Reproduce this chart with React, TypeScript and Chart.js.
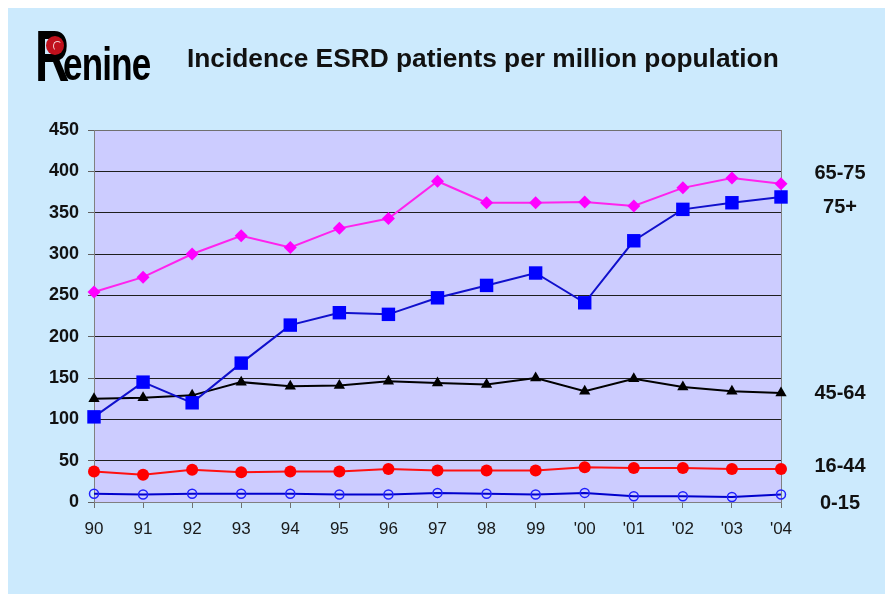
import React, { useEffect, useRef } from "react";
import { Chart, registerables } from "chart.js";

Chart.register(...registerables);

const years = ["90", "91", "92", "93", "94", "95", "96", "97", "98", "99", "'00", "'01", "'02", "'03", "'04"];
const age65to75 = [254, 272, 300, 322, 308, 331, 343, 388, 362, 362, 363, 358, 380, 392, 385];
const age75plus = [103, 145, 120, 168, 214, 229, 227, 247, 262, 277, 241, 316, 354, 362, 369];
const age45to64 = [125, 126, 129, 145, 140, 141, 146, 144, 142, 150, 134, 149, 139, 134, 132];
const age16to44 = [37, 33, 39, 36, 37, 37, 40, 38, 38, 38, 42, 41, 41, 40, 40];
const age0to15 = [10, 9, 10, 10, 10, 9, 9, 11, 10, 9, 11, 7, 7, 6, 9];
const seriesNames = ["65-75", "75+", "45-64", "16-44", "0-15"];
const titleText = "Incidence ESRD patients per million population";
const yMin = 0;
const yMax = 450;
const yStep = 50;

const FONT = '"Liberation Sans", Arial, Helvetica, sans-serif';

const plotDecor = {
  id: "plotDecor",
  beforeDraw(chart: any) {
    const { ctx, chartArea: a } = chart;
    ctx.save();
    ctx.fillStyle = "#ccccff";
    ctx.fillRect(a.left, a.top, a.right - a.left, a.bottom - a.top);
    ctx.restore();
  },
  beforeDatasetsDraw(chart: any) {
    const { ctx, chartArea: a } = chart;
    ctx.save();
    ctx.strokeStyle = "#808080";
    ctx.lineWidth = 1;
    ctx.beginPath();
    ctx.moveTo(Math.round(a.right) + 0.5, a.top);
    ctx.lineTo(Math.round(a.right) + 0.5, a.bottom);
    ctx.stroke();
    ctx.restore();
  },
};

export default function App() {
  const canvasRef = useRef<HTMLCanvasElement | null>(null);

  useEffect(() => {
    const prevBodyMargin = document.body.style.margin;
    const prevOverflow = document.documentElement.style.overflow;
    document.body.style.margin = "8px 0 0 8px";
    document.documentElement.style.overflow = "hidden";

    const canvas = canvasRef.current;
    if (!canvas) return;
    const chart = new Chart(canvas, {
      type: "line",
      data: {
        labels: years,
        datasets: [
          {
            label: seriesNames[0],
            data: age65to75,
            borderColor: "#ff22ee",
            backgroundColor: "#ff00ff",
            borderWidth: 2,
            pointStyle: "rectRot",
            pointRadius: 6.5,
            pointBorderWidth: 0,
            pointBackgroundColor: "#ff00ff",
            clip: false,
          },
          {
            label: seriesNames[1],
            data: age75plus,
            borderColor: "#1010cc",
            backgroundColor: "#0000ff",
            borderWidth: 2,
            pointStyle: "rect",
            pointRadius: 9.5,
            pointBorderWidth: 0,
            pointBackgroundColor: "#0000ff",
            clip: false,
          },
          {
            label: seriesNames[2],
            data: age45to64,
            borderColor: "#000000",
            backgroundColor: "#000000",
            borderWidth: 2,
            pointStyle: "triangle",
            pointRadius: 6.5,
            pointBorderWidth: 0,
            pointBackgroundColor: "#000000",
            clip: false,
          },
          {
            label: seriesNames[3],
            data: age16to44,
            borderColor: "#ff1010",
            backgroundColor: "#ff0000",
            borderWidth: 2,
            pointStyle: "circle",
            pointRadius: 6,
            pointBorderWidth: 0,
            pointBackgroundColor: "#ff0000",
            clip: false,
          },
          {
            label: seriesNames[4],
            data: age0to15,
            borderColor: "#0000cc",
            backgroundColor: "transparent",
            borderWidth: 2,
            pointStyle: "circle",
            pointRadius: 4.5,
            pointBorderWidth: 1.5,
            pointBorderColor: "#2020ff",
            pointBackgroundColor: "rgba(0,0,0,0)",
            clip: false,
          },
        ],
      },
      options: {
        responsive: false,
        animation: false,
        events: [],
        layout: { padding: { left: 36, right: 104, top: 122, bottom: 52 } },
        plugins: {
          legend: { display: false },
          tooltip: { enabled: false },
          title: { display: false },
        },
        scales: {
          x: {
            type: "category",
            offset: false,
            afterFit(scale: any) {
              scale.height = 40;
            },
            grid: {
              drawOnChartArea: false,
              drawTicks: true,
              tickLength: 6,
              color: "#707070",
              tickColor: "#707070",
            },
            border: { color: "#808080", width: 1 },
            ticks: {
              color: "#1a1a1a",
              padding: 11,
              maxRotation: 0,
              autoSkip: false,
              font: { family: FONT, size: 17, weight: "normal" },
            },
          },
          y: {
            min: yMin,
            max: yMax,
            afterFit(scale: any) {
              scale.width = 50;
            },
            grid: {
              drawTicks: true,
              tickLength: 6,
              color: (c: any) =>
                c.tick && (c.tick.value === yMax || c.tick.value === yMin) ? "#707070" : "#1e1e1e",
              tickColor: "#606060",
              lineWidth: 1,
            },
            border: { color: "#808080", width: 1 },
            ticks: {
              stepSize: yStep,
              color: "#111111",
              padding: 9,
              font: { family: FONT, size: 18, weight: "bold" },
            },
          },
        },
      },
      plugins: [plotDecor],
    });
    return () => {
      chart.destroy();
      document.body.style.margin = prevBodyMargin;
      document.documentElement.style.overflow = prevOverflow;
    };
  }, []);

  const labelTops = [154, 188, 374, 447, 484];

  return (
    <div
      style={{
        position: "relative",
        width: 877,
        height: 586,
        background: "#cceafd",
        overflow: "hidden",
        fontFamily: FONT,
      }}
    >
      <canvas
        ref={canvasRef}
        width={877}
        height={586}
        style={{ position: "absolute", left: 0, top: 0, width: 877, height: 586 }}
      />
      {/* Logo */}
      <div
        style={{
          position: "absolute",
          left: 27,
          top: 12,
          fontFamily: FONT,
          fontWeight: "bold",
          fontSize: 72,
          lineHeight: "72px",
          color: "#000",
          transform: "scaleX(0.66)",
          transformOrigin: "left top",
          whiteSpace: "nowrap",
        }}
      >
        R
      </div>
      <div
        style={{
          position: "absolute",
          left: 38,
          top: 28,
          width: 18,
          height: 19,
          borderRadius: "50%",
          background: "#c0101c",
        }}
      />
      <div
        style={{
          position: "absolute",
          left: 45,
          top: 33,
          width: 7,
          height: 8,
          borderRadius: "50%",
          border: "1.5px solid #ffffff",
          borderRightColor: "transparent",
          borderBottomColor: "transparent",
          opacity: 0.8,
        }}
      />
      <div
        style={{
          position: "absolute",
          left: 55,
          top: 33,
          fontFamily: FONT,
          fontWeight: "bold",
          fontSize: 46,
          lineHeight: "46px",
          color: "#000",
          transform: "scaleX(0.76)",
          transformOrigin: "left top",
          whiteSpace: "nowrap",
          letterSpacing: -1,
        }}
      >
        enine
      </div>
      {/* Title */}
      <div
        style={{
          position: "absolute",
          left: 179,
          top: 37,
          fontFamily: FONT,
          fontWeight: "bold",
          fontSize: 26.3,
          lineHeight: "26px",
          color: "#111",
          whiteSpace: "nowrap",
        }}
      >
        {titleText}
      </div>
      {/* Series labels on the right */}
      {seriesNames.map((name, i) => (
        <div
          key={name}
          style={{
            position: "absolute",
            left: 792,
            width: 80,
            top: labelTops[i],
            textAlign: "center",
            fontFamily: FONT,
            fontWeight: "bold",
            fontSize: 20,
            lineHeight: "20px",
            color: "#111",
            whiteSpace: "nowrap",
          }}
        >
          {name}
        </div>
      ))}
    </div>
  );
}
